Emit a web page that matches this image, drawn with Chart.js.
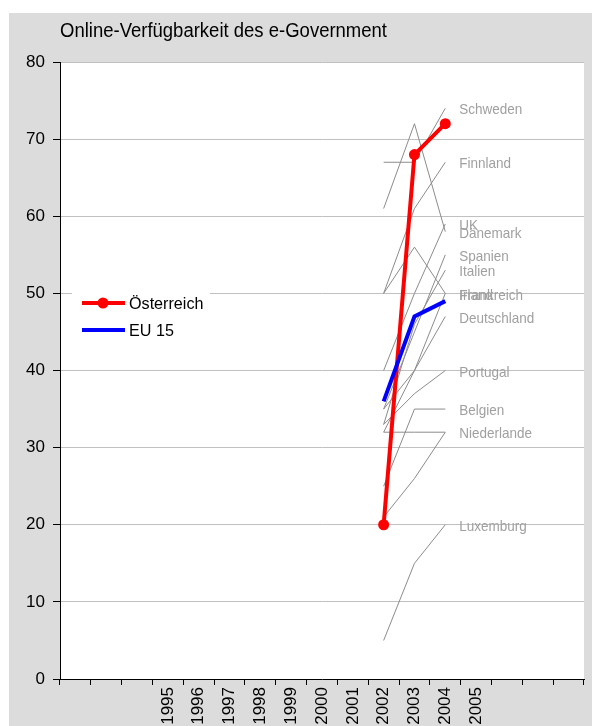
<!DOCTYPE html>
<html>
<head>
<meta charset="utf-8">
<script src="https://cdn.jsdelivr.net/npm/chart.js"></script>
<style>
  body { margin: 0; background: #fff; }
  .box { width: 592px; height: 726px; }
</style>
</head>
<body>
<div class="box">
  <canvas id="verfuegbarkeit" width="592" height="726"></canvas>
</div>

<script>
// Kategorien der x-Achse (leere Felder links und rechts)
const jahre = ['', '', '', '1995', '1996', '1997', '1998', '1999', '2000', '2001', '2002', '2003', '2004', '2005', '', '', ''];
// gemessene Jahre
const messJahre = ['2002', '2003', '2004'];

const oesterreich = [20, 68, 72];
const eu15 = [36, 47, 49];

const laender = ['Schweden', 'Finnland', 'UK', 'Dänemark', 'Spanien', 'Italien', 'Irland', 'Frankreich',
  'Deutschland', 'Portugal', 'Belgien', 'Niederlande', 'Griechenland', 'Luxemburg'];
const schweden = [67, 67, 74];
const finnland = [50, 61, 67];
const uk = [40, 50, 59];
const daenemark = [61, 72, 58];
const spanien = [35, 45, 55];
const italien = [33, 46, 53];
const irland = [50, 56, 50];
const frankreich = [32, 40, 50];
const deutschland = [35, 40, 47];
const portugal = [33, 37, 40];
const belgien = [25, 35, 35];
const niederlande = [32, 32, 32];
const griechenland = [21, 26, 32];
const luxemburg = [5, 15, 20];
const laenderWerte = [schweden, finnland, uk, daenemark, spanien, italien, irland, frankreich,
  deutschland, portugal, belgien, niederlande, griechenland, luxemburg];
// ohne Beschriftung am Linienende
const ohneName = ['Griechenland'];

const schrift = "'Liberation Sans Narrow', 'Arial Narrow', 'Liberation Sans', sans-serif";

function aufAchse(werte) {
  return jahre.map(j => {
    const i = messJahre.indexOf(j);
    return i >= 0 ? werte[i] : null;
  });
}

// schmal gesetzter Text (keine Narrow-Schrift vorhanden)
function schmalerText(ctx, text, x, y, faktor) {
  ctx.save();
  ctx.translate(x, y);
  ctx.scale(faktor, 1);
  ctx.fillText(text, 0, 0);
  ctx.restore();
}

const datasets = [
  {
    label: 'EU 15',
    data: aufAchse(eu15),
    borderColor: '#0000ff',
    backgroundColor: '#0000ff',
    borderWidth: 4,
    pointRadius: 0,
    order: 0
  },
  {
    label: 'Österreich',
    data: aufAchse(oesterreich),
    borderColor: '#ff0000',
    backgroundColor: '#ff0000',
    borderWidth: 4,
    pointRadius: 5.5,
    pointBorderWidth: 0,
    order: 1
  }
];
laender.forEach((name, i) => {
  datasets.push({
    label: name,
    data: aufAchse(laenderWerte[i]),
    borderColor: '#8c8c8c',
    borderWidth: 1,
    pointRadius: 0,
    order: 2,
    grau: true
  });
});

const hintergrund = {
  id: 'hintergrund',
  beforeDraw(chart) {
    const { ctx, chartArea: a } = chart;
    ctx.save();
    ctx.fillStyle = '#dcdcdc';
    ctx.fillRect(9, 13, chart.width - 9, chart.height - 13);
    ctx.fillStyle = '#ffffff';
    ctx.fillRect(a.left, a.top, a.right - a.left, a.bottom - a.top);
    ctx.fillStyle = '#000';
    ctx.font = '20px ' + schrift;
    ctx.textBaseline = 'middle';
    schmalerText(ctx, 'Online-Verfügbarkeit des e-Government', a.left, 31, 0.925);
    ctx.restore();
  }
};

// Ländernamen rechts neben dem letzten Punkt
const namen = {
  id: 'namen',
  afterDatasetsDraw(chart) {
    const { ctx, scales: { x, y } } = chart;
    const letzter = jahre.indexOf(messJahre[messJahre.length - 1]);
    ctx.save();
    ctx.fillStyle = '#a0a0a0';
    ctx.font = '15px ' + schrift;
    ctx.textBaseline = 'middle';
    chart.data.datasets.forEach(ds => {
      if (!ds.grau || ohneName.includes(ds.label)) return;
      const wert = ds.data[letzter];
      schmalerText(ctx, ds.label, x.getPixelForValue(letzter) + 14, y.getPixelForValue(wert) + 2, 0.9);
    });
    ctx.restore();
  }
};

// Legende im Diagramm, weiß hinterlegt
const legende = {
  id: 'legende',
  afterDatasetsDraw(chart) {
    const { ctx } = chart;
    const eintraege = [chart.data.datasets[1], chart.data.datasets[0]];
    ctx.save();
    ctx.fillStyle = '#ffffff';
    ctx.fillRect(72, 284, 138, 62);
    ctx.font = '17px ' + schrift;
    ctx.textBaseline = 'middle';
    eintraege.forEach((ds, i) => {
      const yy = 303 + i * 27;
      ctx.strokeStyle = ds.borderColor;
      ctx.lineWidth = 4;
      ctx.beginPath();
      ctx.moveTo(82, yy);
      ctx.lineTo(125, yy);
      ctx.stroke();
      if (ds.pointRadius) {
        ctx.fillStyle = ds.backgroundColor;
        ctx.beginPath();
        ctx.arc(103, yy, 5.5, 0, Math.PI * 2);
        ctx.fill();
      }
      ctx.fillStyle = '#000';
      schmalerText(ctx, ds.label, 129, yy + 1, 0.95);
    });
    ctx.restore();
  }
};

new Chart(document.getElementById('verfuegbarkeit'), {
  type: 'line',
  data: { labels: jahre, datasets: datasets },
  options: {
    responsive: false,
    animation: false,
    spanGaps: false,
    layout: { padding: { top: 62, right: 8, left: 0, bottom: 0 } },
    plugins: {
      legend: { display: false },
      title: { display: false },
      tooltip: { enabled: false }
    },
    scales: {
      x: {
        offset: true,
        afterFit: s => { s.height = 47; },
        border: { color: '#000', width: 1 },
        grid: {
          offset: true,
          drawOnChartArea: false,
          color: '#000',
          tickLength: 6
        },
        ticks: {
          autoSkip: false,
          minRotation: 90,
          maxRotation: 90,
          padding: 2,
          color: '#000',
          font: { family: schrift, size: 17 }
        }
      },
      y: {
        min: 0,
        max: 80,
        afterFit: s => { s.width = 60; },
        border: { color: '#000', width: 1 },
        grid: {
          color: '#c0c0c0',
          tickColor: '#000',
          tickLength: 7
        },
        ticks: {
          stepSize: 10,
          padding: 8,
          color: '#000',
          font: { family: schrift, size: 17 }
        }
      }
    }
  },
  plugins: [hintergrund, namen, legende]
});
</script>
</body>
</html>
